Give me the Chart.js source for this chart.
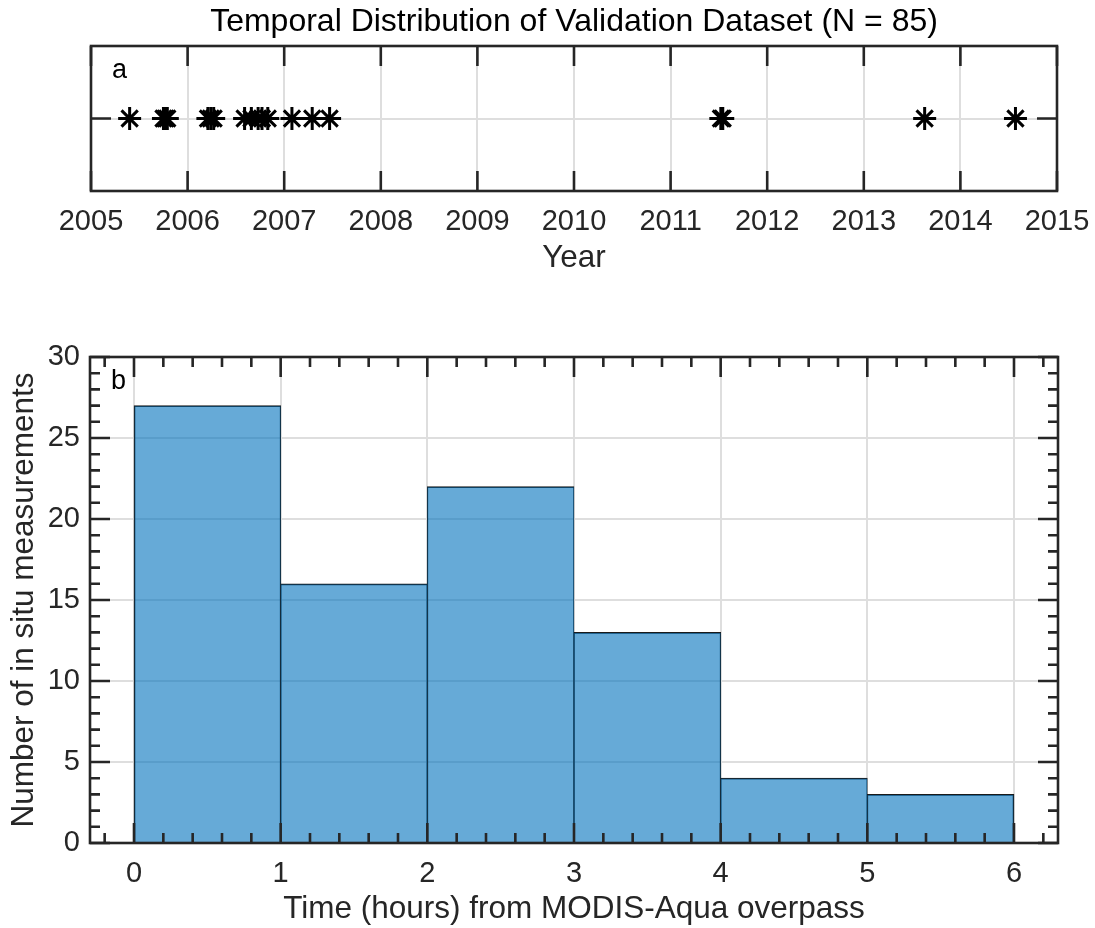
<!DOCTYPE html>
<html>
<head>
<meta charset="utf-8">
<script src="https://cdn.jsdelivr.net/npm/chart.js@4.4.1/dist/chart.umd.min.js"></script>
<style>
  html, body { margin: 0; padding: 0; background: #ffffff; }
  #wrap { position: relative; width: 1095px; height: 928px; }
  #timeline { position: absolute; left: 0; top: 0; }
  #histogram { position: absolute; left: 0; top: 300px; }
</style>
</head>
<body>
<div id="wrap">
  <canvas id="timeline" width="1095" height="300"></canvas>
  <canvas id="histogram" width="1095" height="628"></canvas>
</div>
<script>
// Sampling dates of the validation match-ups, in decimal years
const sampleYears = [
  2005.40,
  2005.75, 2005.77, 2005.79,
  2006.21, 2006.24, 2006.27,
  2006.59, 2006.66, 2006.73, 2006.77, 2006.83,
  2007.08, 2007.29, 2007.47,
  2011.52, 2011.54,
  2013.63,
  2014.57
];
const yearTicks = [2005, 2006, 2007, 2008, 2009, 2010, 2011, 2012, 2013, 2014, 2015];

// Time offset from the satellite overpass: bin edges (hours) and counts per bin
const binEdges = [0, 1, 2, 3, 4, 5, 6];
const binCounts = [27, 16, 22, 13, 4, 3];
const hourTicks = [0, 1, 2, 3, 4, 5, 6];
const countTicks = [0, 5, 10, 15, 20, 25, 30];

const FONT = '"Liberation Sans", Arial, Helvetica, sans-serif';
const AXIS_COLOR = '#262626';
const GRID_COLOR = '#dedede';

// Boxed axes with inward tick marks on all four sides, panel letter and heading
const frameTicks = {
  id: 'frameTicks',
  afterDatasetsDraw(chart, args, opts) {
    const { ctx, chartArea: a, scales: { x, y } } = chart;
    ctx.save();
    ctx.strokeStyle = AXIS_COLOR;
    ctx.lineWidth = opts.lineWidth;
    ctx.lineCap = 'butt';
    ctx.beginPath();
    const mark = (scale, values, len) => {
      values.forEach(v => {
        const p = scale.getPixelForValue(v);
        if (scale.isHorizontal()) {
          ctx.moveTo(p, a.bottom); ctx.lineTo(p, a.bottom - len);
          ctx.moveTo(p, a.top); ctx.lineTo(p, a.top + len);
        } else {
          ctx.moveTo(a.left, p); ctx.lineTo(a.left + len, p);
          ctx.moveTo(a.right, p); ctx.lineTo(a.right - len, p);
        }
      });
    };
    mark(x, opts.xMajor, opts.majorLen);
    mark(y, opts.yMajor, opts.majorLen);
    mark(x, opts.xMinor || [], opts.minorLen);
    mark(y, opts.yMinor || [], opts.minorLen);
    ctx.stroke();
    ctx.strokeRect(a.left, a.top, a.width, a.height);

    ctx.fillStyle = '#000000';
    ctx.font = '27px ' + FONT;
    ctx.textBaseline = 'alphabetic';
    ctx.textAlign = 'left';
    ctx.fillText(opts.letter, a.left + 21, a.top + 32);

    if (opts.heading) {
      ctx.font = '32px ' + FONT;
      ctx.textAlign = 'center';
      ctx.textBaseline = 'middle';
      ctx.fillText(opts.heading, (a.left + a.right) / 2, opts.headingY);
    }
    ctx.restore();
  }
};

function fixedTicks(values) {
  return scale => { scale.ticks = values.map(v => ({ value: v })); };
}

function minorSteps(from, to, step, skipEvery) {
  const out = [];
  const n = Math.round((to - from) / step);
  for (let i = 0; i <= n; i++) {
    const v = +(from + i * step).toFixed(6);
    if (Math.abs(v / skipEvery - Math.round(v / skipEvery)) > 1e-6) out.push(v);
  }
  return out;
}

const tickFont = { family: FONT, size: 29 };
const titleFont = { family: FONT, size: 31.5 };

// Panel a: dates of the validation samples
new Chart(document.getElementById('timeline'), {
  type: 'scatter',
  data: {
    datasets: [{
      data: sampleYears.map(yr => ({ x: yr, y: 1 })),
      pointStyle: 'star',
      pointRadius: 11.5,
      pointBorderWidth: 3,
      borderColor: '#000000',
      backgroundColor: '#000000'
    }]
  },
  options: {
    responsive: false,
    animation: false,
    devicePixelRatio: 1,
    events: [],
    layout: { padding: { left: 0, right: 38, top: 46, bottom: 0 } },
    plugins: {
      legend: { display: false },
      tooltip: { enabled: false },
      frameTicks: {
        letter: 'a', lineWidth: 2.6, majorLen: 20, minorLen: 10,
        xMajor: yearTicks, yMajor: [1],
        heading: 'Temporal Distribution of Validation Dataset (N = 85)',
        headingY: 22
      }
    },
    scales: {
      x: {
        type: 'linear', min: 2005, max: 2015,
        afterBuildTicks: fixedTicks(yearTicks),
        afterFit: s => { s.height = 109; s.paddingLeft = 0; s.paddingRight = 0; },
        ticks: { font: tickFont, color: AXIS_COLOR, padding: 14, maxRotation: 0, autoSkip: false,
                 callback: v => String(v) },
        grid: { color: GRID_COLOR, lineWidth: 2, drawTicks: false },
        border: { display: false },
        title: { display: true, text: 'Year', color: AXIS_COLOR, font: titleFont,
                 padding: { top: 0, bottom: 23 } }
      },
      y: {
        type: 'linear', min: 0, max: 2,
        afterBuildTicks: fixedTicks([1]),
        afterFit: s => { s.width = 91; },
        ticks: { display: false },
        grid: { color: GRID_COLOR, lineWidth: 2, drawTicks: false },
        border: { display: false }
      }
    }
  },
  plugins: [frameTicks]
});

// Panel b: histogram of time differences
const lastBin = binCounts.length - 1;
new Chart(document.getElementById('histogram'), {
  type: 'bar',
  data: {
    datasets: [{
      data: binCounts.map((c, i) => ({ x: (binEdges[i] + binEdges[i + 1]) / 2, y: c })),
      backgroundColor: 'rgba(0, 114, 189, 0.6)',
      borderColor: '#1a1a1a',
      borderWidth: ctx => ({
        top: 1,
        bottom: 0,
        left: ctx.dataIndex === 0 ? 1 : 0.5,
        right: ctx.dataIndex === lastBin ? 1 : 0.5
      }),
      borderSkipped: false,
      barPercentage: 1,
      categoryPercentage: 1,
      grouped: false
    }]
  },
  options: {
    responsive: false,
    animation: false,
    devicePixelRatio: 1,
    events: [],
    layout: { padding: { left: 0, right: 37, top: 57, bottom: 0 } },
    plugins: {
      legend: { display: false },
      tooltip: { enabled: false },
      frameTicks: {
        letter: 'b', lineWidth: 2.6, majorLen: 20, minorLen: 10,
        xMajor: hourTicks, yMajor: countTicks,
        xMinor: minorSteps(-0.2, 6.2, 0.2, 1),
        yMinor: minorSteps(1, 29, 1, 5)
      }
    },
    scales: {
      x: {
        type: 'linear', min: -0.3, max: 6.3, offset: false,
        afterBuildTicks: fixedTicks(hourTicks),
        afterFit: s => { s.height = 85; s.paddingLeft = 0; s.paddingRight = 0; },
        ticks: { font: tickFont, color: AXIS_COLOR, padding: 14, maxRotation: 0, autoSkip: false },
        grid: { color: GRID_COLOR, lineWidth: 2, drawTicks: false, offset: false },
        border: { display: false },
        title: { display: true, text: 'Time (hours) from MODIS-Aqua overpass', color: AXIS_COLOR,
                 font: titleFont, padding: { top: 0, bottom: 0 } }
      },
      y: {
        type: 'linear', min: 0, max: 30,
        afterBuildTicks: fixedTicks(countTicks),
        afterFit: s => { s.width = 90; },
        ticks: { font: tickFont, color: AXIS_COLOR, padding: 10 },
        grid: { color: GRID_COLOR, lineWidth: 2, drawTicks: false },
        border: { display: false },
        title: { display: true, text: 'Number of in situ measurements', color: AXIS_COLOR,
                 font: titleFont, padding: { top: 5, bottom: 0 } }
      }
    }
  },
  plugins: [frameTicks]
});
</script>
</body>
</html>
